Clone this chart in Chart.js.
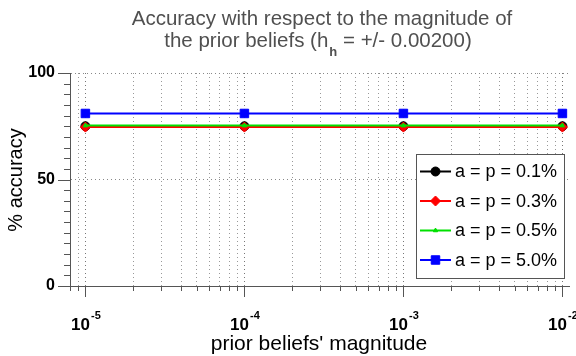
<!DOCTYPE html>
<html>
<head>
<meta charset="utf-8">
<script src="https://cdn.jsdelivr.net/npm/chart.js@4/dist/chart.umd.min.js"></script>
<style>
  html, body { margin: 0; padding: 0; background: #fff; }
  canvas { display: block; }
</style>
</head>
<body>
<canvas id="chart" width="576" height="356"></canvas>
<script>
// values
const magnitudes = [1e-5, 1e-4, 1e-3, 1e-2];
const seriesNames = ['a = p = 0.1%', 'a = p = 0.3%', 'a = p = 0.5%', 'a = p = 5.0%'];
const acc01 = [75.0, 75.0, 75.0, 75.0];
const acc03 = [74.6, 74.6, 74.6, 74.6];
const acc05 = [75.3, 75.3, 75.3, 75.3];
const acc50 = [81.0, 81.0, 81.0, 81.0];
const yTickLabels = [0, 50, 100];
const xDecades = [-5, -4, -3, -2];

const FONT = '"Liberation Sans", Arial, sans-serif';
const AXIS = '#555';

const toPoints = (vals) => vals.map((v, i) => ({x: magnitudes[i], y: v}));

const ds = (label, vals, color, style, radius, order) => ({
	label: label,
	data: toPoints(vals),
	borderColor: color,
	backgroundColor: color,
	pointBackgroundColor: color,
	pointBorderColor: color,
	pointStyle: style,
	pointRadius: radius,
	pointBorderWidth: 1,
	borderWidth: 2,
	order: order
});

const datasets = [
	ds(seriesNames[0], acc01, '#000000', 'circle', 4.5, 3),
	ds(seriesNames[1], acc03, '#ff0000', 'rectRot', 5, 2),
	ds(seriesNames[2], acc05, '#00e000', 'triangle', 2.5, 1),
	ds(seriesNames[3], acc50, '#0000ff', 'rect', 6, 0)
];

// log minor ticks 8e-6 .. 1e-2
const xTickValues = [8e-6, 9e-6];
for (let e = -5; e <= -3; e++) {
	for (let k = 1; k <= 9; k++) xTickValues.push(+(k * Math.pow(10, e)).toPrecision(3));
}
xTickValues.push(1e-2);

const isDecade = (v) => Math.abs(Math.log10(v) - Math.round(Math.log10(v))) < 1e-9;

const decorations = {
	id: 'decorations',
	afterDraw(chart) {
		const ctx = chart.ctx;
		const xs = chart.scales.x;
		const ys = chart.scales.y;
		const area = chart.chartArea;
		ctx.save();

		// tick marks
		ctx.strokeStyle = AXIS;
		ctx.lineWidth = 1;
		ctx.beginPath();
		for (let v = 0; v <= 100; v += 5) {
			const y = Math.round(ys.getPixelForValue(v)) + 0.5;
			const len = v % 50 === 0 ? 12 : 6;
			ctx.moveTo(area.left - len, y);
			ctx.lineTo(area.left, y);
		}
		xTickValues.forEach(v => {
			const x = Math.round(xs.getPixelForValue(v)) + 0.5;
			const len = isDecade(v) ? 11 : 5;
			ctx.moveTo(x, area.bottom);
			ctx.lineTo(x, area.bottom + len);
		});
		ctx.stroke();

		// x tick labels 10^n
		ctx.fillStyle = '#000';
		ctx.textBaseline = 'alphabetic';
		xDecades.forEach(e => {
			const x = xs.getPixelForValue(Math.pow(10, e));
			ctx.font = 'bold 17px ' + FONT;
			const base = '10';
			const wb = ctx.measureText(base).width;
			ctx.font = 'bold 11px ' + FONT;
			const sup = String(e);
			const ws = ctx.measureText(sup).width;
			const x0 = x - (wb + ws) / 2;
			ctx.font = 'bold 17px ' + FONT;
			ctx.textAlign = 'left';
			ctx.fillText(base, x0, 330);
			ctx.font = 'bold 11px ' + FONT;
			ctx.fillText(sup, x0 + wb + 1, 319);
		});

		// axis titles
		ctx.font = '21px ' + FONT;
		ctx.textAlign = 'center';
		ctx.fillText("prior beliefs' magnitude", 319, 350);
		ctx.font = '20px ' + FONT;
		ctx.save();
		ctx.translate(22, 180);
		ctx.rotate(-Math.PI / 2);
		ctx.fillText('% accuracy', 0, 0);
		ctx.restore();

		// title
		const TF = '20.5px ' + FONT;
		const SF = 'bold 13px ' + FONT;
		ctx.fillStyle = '#505050';
		ctx.font = TF;
		ctx.textAlign = 'center';
		ctx.fillText('Accuracy with respect to the magnitude of', 322, 25);
		const p1 = 'the prior beliefs (h';
		const p2 = 'h';
		const p3 = ' = +/- 0.00200)';
		ctx.font = TF;
		const w1 = ctx.measureText(p1).width;
		const w3 = ctx.measureText(p3).width;
		ctx.font = SF;
		const w2 = ctx.measureText(p2).width;
		let tx = 318 - (w1 + w2 + w3 + 1) / 2;
		ctx.textAlign = 'left';
		ctx.font = TF;
		ctx.fillText(p1, tx, 47);
		ctx.font = SF;
		ctx.fillText(p2, tx + w1 + 1, 56);
		ctx.font = TF;
		ctx.fillText(p3, tx + w1 + w2 + 1, 47);

		// legend
		const bx = 416, by = 154, bw = 148, bh = 124;
		ctx.fillStyle = '#fff';
		ctx.fillRect(bx, by, bw, bh);
		ctx.strokeStyle = AXIS;
		ctx.lineWidth = 1;
		ctx.strokeRect(bx + 0.5, by + 0.5, bw, bh);
		chart.data.datasets.forEach((d, i) => {
			const y = by + 17.5 + i * 29.5;
			ctx.strokeStyle = d.borderColor;
			ctx.lineWidth = 2;
			ctx.beginPath();
			ctx.moveTo(420, y);
			ctx.lineTo(451, y);
			ctx.stroke();
			ctx.fillStyle = d.backgroundColor;
			ctx.lineWidth = 1;
			Chart.helpers.drawPoint(ctx, {pointStyle: d.pointStyle, radius: d.pointRadius, rotation: 0, borderWidth: 1}, 435.5, y);
			ctx.fillStyle = '#000';
			ctx.font = '18px ' + FONT;
			ctx.textAlign = 'left';
			ctx.textBaseline = 'middle';
			ctx.fillText(d.label, 455, y + 1);
			ctx.textBaseline = 'alphabetic';
		});

		ctx.restore();
	}
};

new Chart(document.getElementById('chart'), {
	type: 'line',
	data: {datasets: datasets},
	options: {
		responsive: false,
		animation: false,
		devicePixelRatio: 1,
		layout: {padding: {top: 73, right: 7, left: 0, bottom: 0}},
		plugins: {legend: {display: false}, title: {display: false}, tooltip: {enabled: false}},
		scales: {
			x: {
				type: 'logarithmic',
				min: 8e-6,
				max: 1.1e-2,
				afterBuildTicks: (scale) => { scale.ticks = xTickValues.map(v => ({value: v})); },
				afterFit: (scale) => { scale.height = 70; scale.paddingLeft = 0; scale.paddingRight = 0; },
				ticks: {display: false},
				grid: {
					color: (c) => (c.tick && isDecade(c.tick.value)) ? '#777' : '#999',
					lineWidth: 1,
					drawTicks: false
				},
				border: {display: true, color: AXIS, width: 1, dash: [1, 3]}
			},
			y: {
				min: 0,
				max: 100,
				afterBuildTicks: (scale) => {
					const t = [];
					for (let v = 0; v <= 100; v += 5) t.push({value: v});
					scale.ticks = t;
				},
				afterFit: (scale) => { scale.width = 70; scale.paddingTop = 0; scale.paddingBottom = 0; },
				ticks: {
					autoSkip: false,
					padding: 15,
					color: '#000',
					font: {family: FONT, size: 16, weight: 'bold'},
					callback: (v) => yTickLabels.includes(v) ? String(v) : ''
				},
				grid: {
					color: (c) => (c.tick && c.tick.value % 50 === 0 && c.tick.value !== 0) ? '#888' : 'rgba(0,0,0,0)',
					lineWidth: 1,
					drawTicks: false
				},
				border: {display: true, color: AXIS, width: 1, dash: [1, 3]}
			}
		}
	},
	plugins: [decorations]
});
</script>
</body>
</html>
